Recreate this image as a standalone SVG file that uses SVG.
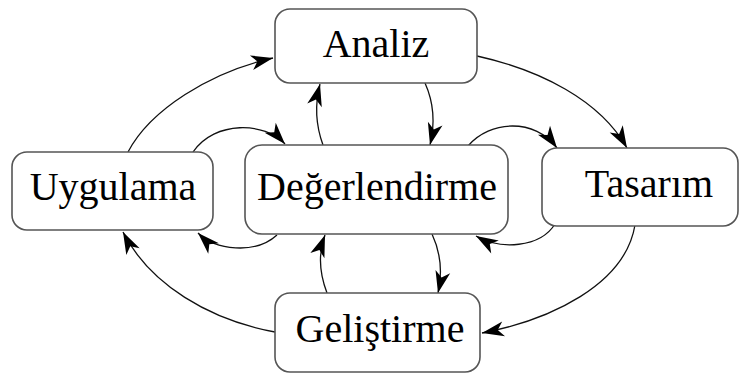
<svg xmlns="http://www.w3.org/2000/svg" width="740" height="376" viewBox="0 0 740 376">
<style>
.box{fill:#fff;stroke:#555;stroke-width:1.6}
.lbl{font-family:"Liberation Serif","Times New Roman",serif;font-size:40px;fill:#000;text-anchor:middle}
.c{fill:none;stroke:#111;stroke-width:1.3;marker-end:url(#ah)}
</style>
<defs>
<marker id="ah" markerUnits="userSpaceOnUse" markerWidth="26" markerHeight="20" viewBox="-24 -10 26 20" refX="0" refY="0" orient="auto">
<path d="M0,0 L-22,-7.5 L-16,0 L-22,7.5 Z" fill="#000"/>
</marker>
</defs>
<rect width="740" height="376" fill="#fff"/>
<g id="connectors">
<path class="c" d="M128,152 C150,110 210,72 273,58"/>
<path class="c" d="M477,56 C540,70 600,100 627,148"/>
<path class="c" d="M635,225 C625,285 550,320 482,333"/>
<path class="c" d="M275,332 C210,320 150,285 123,232"/>
<path class="c" d="M193,152 C215,120 265,122 285,144"/>
<path class="c" d="M277,235 C255,255 215,250 198,233"/>
<path class="c" d="M468,146 C490,120 535,118 557,148"/>
<path class="c" d="M555,224 C540,248 500,250 476,236"/>
<path class="c" d="M323,145 Q312,115 320,84"/>
<path class="c" d="M425,83 Q438,112 430,145"/>
<path class="c" d="M327,293 Q315,262 325,235"/>
<path class="c" d="M432,234 Q445,262 438,293"/>
</g>
<g id="analiz"><rect class="box" x="275" y="9" width="202" height="74" rx="15"/><text class="lbl" x="376" y="57">Analiz</text></g>
<g id="uygulama"><rect class="box" x="12" y="152" width="201" height="78" rx="15"/><text class="lbl" x="113" y="200">Uygulama</text></g>
<g id="degerlendirme"><rect class="box" x="245" y="145" width="263" height="89" rx="17"/><text class="lbl" x="377" y="200">Değerlendirme</text></g>
<g id="tasarim"><rect class="box" x="542" y="148" width="196" height="78" rx="15"/><text class="lbl" x="649" y="197">Tasarım</text></g>
<g id="gelistirme"><rect class="box" x="275" y="293" width="205" height="79" rx="15"/><text class="lbl" x="380" y="342">Geliştirme</text></g>
</svg>
